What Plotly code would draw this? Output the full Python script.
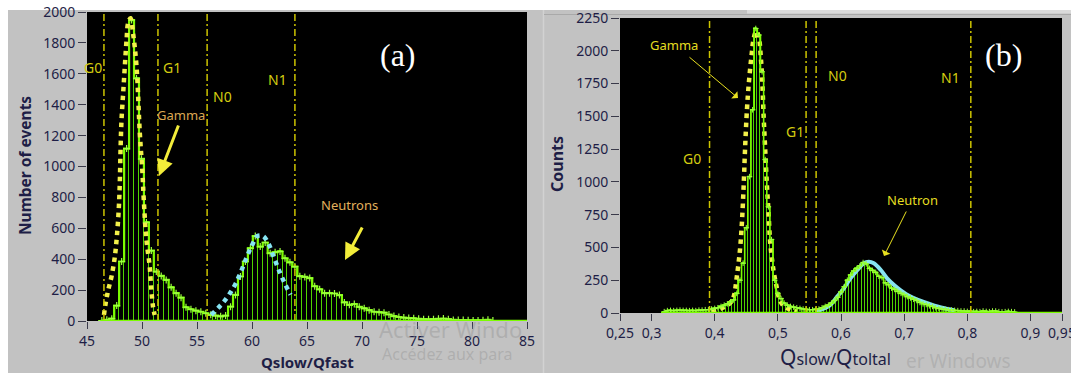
import plotly.graph_objects as go

W, H = 1071, 373

# ---------------- Panel (a) data ----------------
a_x = [46.35, 46.80, 47.25, 47.70, 48.15, 48.60, 49.05, 49.50, 49.95, 50.40,
       50.85, 51.30, 51.75, 52.20, 52.65, 53.10, 53.55, 54.00, 54.45, 54.90,
       55.35, 55.80, 56.25, 56.70, 57.15, 57.60, 58.05, 58.50, 58.95, 59.40,
       59.85, 60.30, 60.75, 61.20, 61.65, 62.10, 62.55, 63.00, 63.45, 63.90,
       64.35, 64.80, 65.25, 65.70, 66.15, 66.60, 67.05, 67.50, 67.95, 68.40,
       68.85, 69.30, 69.75, 70.20, 70.65, 71.10, 71.55, 72.00, 72.45, 72.90,
       73.35, 73.80, 74.25, 74.70, 75.15, 75.60, 76.05, 76.50, 76.95, 77.40,
       77.85, 78.30, 78.75, 79.20, 79.65, 80.10, 80.55, 81.00, 81.45, 81.90]
a_counts = [3, 8, 15, 100, 385, 1116, 1948, 1570, 1050, 638,
            456, 320, 292, 266, 218, 180, 151, 89, 76, 67,
            60, 50, 40, 35, 30, 35, 93, 169, 288, 385,
            471, 550, 482, 508, 439, 445, 450, 406, 380, 352,
            290, 285, 278, 225, 205, 180, 180, 178, 168, 120,
            105, 110, 92, 82, 70, 60, 57, 54, 42, 32,
            26, 22, 19, 17, 14, 12, 11, 12, 14, 16,
            12, 7, 6, 6, 5, 4, 4, 5, 8, 3]
a_gamma_x = [46.54, 46.72, 46.93, 47.23, 47.53, 47.74, 47.90, 47.99, 48.05, 48.14,
             48.29, 48.44, 48.60, 48.74, 48.95, 49.19, 49.50, 49.80, 50.04, 50.16,
             50.40, 50.70, 50.85, 51.00, 51.15]
a_gamma_y = [39, 125, 200, 288, 416, 569, 742, 915, 1109, 1304,
             1477, 1650, 1823, 1930, 1960, 1860, 1650, 1217, 960, 785,
             526, 352, 201, 93, 39]
a_neut_x = [56.3, 57.0, 57.5, 58.0, 58.5, 59.0, 59.5, 60.0, 60.5, 61.0,
            61.5, 62.0, 62.5, 63.0, 63.5]
a_neut_y = [40, 90, 130, 180, 240, 320, 410, 490, 550, 550,
            500, 410, 320, 240, 170]
a_cuts = [46.54, 51.45, 55.92, 63.9]
a_cut_names = ["G0", "G1", "N0", "N1"]
a_xticks = [45, 50, 55, 60, 65, 70, 75, 80, 85]

# ---------------- Panel (b) data ----------------
b_x = [0.320, 0.325, 0.330, 0.335, 0.340, 0.345, 0.350, 0.355, 0.360, 0.365,
       0.370, 0.375, 0.380, 0.385, 0.390, 0.395, 0.400, 0.405, 0.410, 0.415,
       0.420, 0.425, 0.430, 0.435, 0.440, 0.445, 0.450, 0.455, 0.460, 0.465,
       0.470, 0.475, 0.480, 0.485, 0.490, 0.495, 0.500, 0.505, 0.510, 0.515,
       0.520, 0.525, 0.530, 0.535, 0.540, 0.545, 0.550, 0.555, 0.560, 0.565,
       0.570, 0.575, 0.580, 0.585, 0.590, 0.595, 0.600, 0.605, 0.610, 0.615,
       0.620, 0.625, 0.630, 0.635, 0.640, 0.645, 0.650, 0.655, 0.660, 0.665,
       0.670, 0.675, 0.680, 0.685, 0.690, 0.695, 0.700, 0.705, 0.710, 0.715,
       0.720, 0.725, 0.730, 0.735, 0.740, 0.745, 0.750, 0.755, 0.760, 0.765,
       0.770, 0.775, 0.780, 0.785, 0.790, 0.795, 0.800, 0.805, 0.810, 0.815,
       0.820, 0.825, 0.830, 0.835, 0.840, 0.845, 0.850, 0.855, 0.860, 0.865,
       0.870, 0.875]
b_counts = [10, 18, 20, 18, 20, 22, 20, 20, 18, 20,
            18, 22, 22, 25, 25, 30, 35, 40, 50, 60,
            70, 85, 100, 150, 250, 380, 650, 1040, 1550, 2170,
            2120, 1840, 1170, 810, 560, 250, 150, 110, 75, 60,
            50, 45, 40, 35, 30, 28, 25, 25, 28, 30,
            40, 50, 60, 75, 95, 120, 160, 200, 250, 290,
            320, 340, 360, 385, 375, 340, 325, 310, 280, 270,
            230, 215, 190, 180, 165, 150, 140, 125, 115, 105,
            95, 80, 70, 65, 55, 50, 40, 35, 30, 28,
            25, 22, 20, 18, 15, 15, 12, 15, 10, 12,
            10, 15, 12, 10, 15, 15, 10, 8, 10, 12,
            10, 8]
b_gamma_x = [0.395, 0.405, 0.415, 0.425, 0.430, 0.435, 0.440, 0.443, 0.446, 0.448,
             0.451, 0.454, 0.458, 0.462, 0.466, 0.470, 0.473, 0.475, 0.4775, 0.480,
             0.4825, 0.485, 0.488, 0.493, 0.498, 0.503, 0.510, 0.520, 0.530]
b_gamma_y = [15, 25, 45, 80, 125, 277, 481, 684, 989, 1243,
             1548, 1751, 1950, 2100, 2150, 2100, 1950, 1802, 1497, 1243,
             989, 786, 531, 328, 201, 99, 50, 25, 10]
b_neut_x = [0.560, 0.5675, 0.583, 0.594, 0.6045, 0.615, 0.626, 0.636, 0.644, 0.652,
            0.663, 0.673, 0.684, 0.694, 0.710, 0.723, 0.740, 0.760, 0.780]
b_neut_y = [12, 23, 61, 125, 188, 264, 328, 379, 391, 379,
            328, 264, 213, 175, 125, 99, 70, 40, 20]
b_cuts = [0.3918, 0.5447, 0.5606, 0.8056]
b_cut_names = ["G0", "G1", "N0", "N1"]
b_xticks = [0.25, 0.3, 0.4, 0.5, 0.6, 0.7, 0.8, 0.9, 0.95]
b_xticktext = ["0,25", "0,3", "0,4", "0,5", "0,6", "0,7", "0,8", "0,9", "0,95"]

# ---------------- styling ----------------
GRAY = "#C2C2C2"
NAVY = "#1E1E46"
GREEN_BAR = "#4FD400"
GREEN_TOP = "#7CFC00"
YEL_FIT = "#F2F04A"
CYAN_FIT = "#86E4F2"
CUT_COL = "#CCC400"
LBL_COL = "#D4CC10"


def px(x):
    return x / W


def py(y):
    return 1 - y / H


fig = go.Figure()

# Panel (a)
fig.add_trace(go.Bar(x=a_x, y=a_counts, width=0.45, xaxis="x", yaxis="y",
                     marker=dict(color="rgba(0,0,0,0)", line=dict(color=GREEN_BAR, width=1))))
fig.add_trace(go.Scatter(x=a_x, y=a_counts, xaxis="x", yaxis="y", mode="lines+markers",
                         line=dict(color=GREEN_TOP, width=2.2, shape="hvh"),
                         marker=dict(symbol="cross-thin", size=5, line=dict(color="#9CFF40", width=1.2))))
fig.add_trace(go.Scatter(x=a_gamma_x, y=a_gamma_y, xaxis="x", yaxis="y", mode="lines",
                         line=dict(color=YEL_FIT, width=4.5, dash="dot", shape="spline")))
fig.add_trace(go.Scatter(x=a_neut_x, y=a_neut_y, xaxis="x", yaxis="y", mode="lines",
                         line=dict(color=CYAN_FIT, width=4.5, dash="dot", shape="spline")))

# Panel (b)
fig.add_trace(go.Bar(x=b_x, y=b_counts, width=0.005, xaxis="x2", yaxis="y2",
                     marker=dict(color="rgba(0,0,0,0)", line=dict(color=GREEN_BAR, width=1))))
fig.add_trace(go.Scatter(x=b_gamma_x, y=b_gamma_y, xaxis="x2", yaxis="y2", mode="lines",
                         line=dict(color=YEL_FIT, width=4.5, dash="dot", shape="spline")))
fig.add_trace(go.Scatter(x=b_neut_x, y=b_neut_y, xaxis="x2", yaxis="y2", mode="lines",
                         line=dict(color=CYAN_FIT, width=4, shape="spline")))
fig.add_trace(go.Scatter(x=b_x, y=b_counts, xaxis="x2", yaxis="y2", mode="lines+markers",
                         line=dict(color=GREEN_TOP, width=1.6, shape="hvh"),
                         marker=dict(symbol="cross-thin", size=4, line=dict(color="#9CFF40", width=1))))

shapes = []
# white border strips (paper is gray)
shapes.append(dict(type="rect", xref="paper", yref="paper", x0=0, x1=1, y0=py(10), y1=1,
                   fillcolor="white", line=dict(width=0), layer="below"))
shapes.append(dict(type="rect", xref="paper", yref="paper", x0=0, x1=px(8), y0=0, y1=1,
                   fillcolor="white", line=dict(width=0), layer="below"))
shapes.append(dict(type="line", xref="paper", yref="paper", x0=px(543.5), x1=px(543.5), y0=0, y1=py(10),
                   line=dict(color="#D2D2D2", width=1.5), layer="below"))
shapes.append(dict(type="line", xref="paper", yref="paper", x0=px(544), x1=1, y0=py(14.5), y1=py(14.5),
                   line=dict(color="#A9A9A9", width=1), layer="below"))
shapes.append(dict(type="rect", xref="paper", yref="paper", x0=px(747), x1=1, y0=py(13.5), y1=py(10),
                   fillcolor="#DADADA", line=dict(width=0), layer="below"))

DASH = "7px,3px,2px,3px"
for c in a_cuts:
    shapes.append(dict(type="line", xref="x", yref="y domain", x0=c, x1=c, y0=0, y1=1,
                       line=dict(color=CUT_COL, width=1.5, dash=DASH)))
for c in b_cuts:
    shapes.append(dict(type="line", xref="x2", yref="y2 domain", x0=c, x1=c, y0=0, y1=1,
                       line=dict(color=CUT_COL, width=1.5, dash=DASH)))
# green base lines
shapes.append(dict(type="line", xref="x", yref="y", x0=46.2, x1=85, y0=0, y1=0,
                   line=dict(color=GREEN_TOP, width=2.5)))
shapes.append(dict(type="line", xref="x2", yref="y2", x0=0.315, x1=0.95, y0=0, y1=0,
                   line=dict(color=GREEN_TOP, width=2.5)))

ann = []


def label(text, x, y, color, size=15, family="Noto Sans", **kw):
    d = dict(text=text, xref="paper", yref="paper", x=px(x), y=py(y), showarrow=False,
             font=dict(color=color, size=size, family=family), xanchor="center", yanchor="middle",
             borderpad=0)
    d.update(kw)
    ann.append(d)


# cut labels
for name, (lx, ly) in zip(a_cut_names, [(93, 67), (172, 67), (222, 97), (277, 79)]):
    label(name, lx, ly, LBL_COL, size=14)
for name, (lx, ly) in zip(b_cut_names, [(692, 158), (795, 131), (837, 75), (950, 77)]):
    label(name, lx, ly, LBL_COL, size=14)

# panel letters
label("(a)", 398, 55, "white", size=32, family="Liberation Serif")
label("(b)", 1003, 55, "white", size=32, family="Liberation Serif")

# Panel (a) annotations
label("Gamma", 181, 115, "#DCA853", size=13)
ann.append(dict(xref="paper", yref="paper", x=px(159), y=py(176), ax=20, ay=-52, text="",
                showarrow=True, arrowhead=2, arrowsize=1.1, arrowwidth=3, arrowcolor="#F2EC3A"))
label("Neutrons", 349, 205, "#E2B05C", size=13)
ann.append(dict(xref="paper", yref="paper", x=px(345), y=py(260), ax=18, ay=-34, text="",
                showarrow=True, arrowhead=2, arrowsize=1.1, arrowwidth=3, arrowcolor="#F2EC3A"))

# Panel (b) annotations
label("Gamma", 674, 45, "#E4DE20", size=13)
ann.append(dict(xref="paper", yref="paper", x=px(738), y=py(98), ax=-50, ay=-42, text="",
                showarrow=True, arrowhead=1, arrowsize=1.6, arrowwidth=1, arrowcolor="#E8E020"))
label("Neutron", 912, 200, "#E4DE20", size=13)
ann.append(dict(xref="paper", yref="paper", x=px(884), y=py(256), ax=23, ay=-46, text="",
                showarrow=True, arrowhead=1, arrowsize=1.6, arrowwidth=1, arrowcolor="#E8E020"))

# axis titles
label("<b>Number of events</b>", 25, 166, NAVY, size=15.5, textangle=-90)
label("<b>Qslow/Qfast</b>", 307, 362, NAVY, size=15)
label("<b>Counts</b>", 557, 164, NAVY, size=16, textangle=-90)
label("<span style='font-size:21px'>Q</span>slow/<span style='font-size:21px'>Q</span>toltal",
      835, 357, NAVY, size=16)

# faint system watermark
label("Activer Windo", 378, 329, "rgba(150,150,150,0.45)", size=22, xanchor="left")
label("Accédez aux para", 381, 354, "rgba(150,150,150,0.45)", size=16, xanchor="left")
label("er Windows", 905, 361, "rgba(150,150,150,0.4)", size=19, xanchor="left")

tickfont = dict(family="Noto Sans", size=14, color=NAVY)
common = dict(showgrid=False, zeroline=False, showline=False, ticks="outside",
              tickcolor="#3A3A4A", tickwidth=1, tickfont=tickfont, fixedrange=True,
              automargin=False, ticklabeloverflow="allow")

fig.update_layout(
    width=W, height=H, margin=dict(l=0, r=0, t=0, b=0, autoexpand=False),
    paper_bgcolor=GRAY, plot_bgcolor="black", showlegend=False, bargap=0,
    barmode="overlay",
    xaxis=dict(domain=[px(87), px(527)], range=[45, 85], tickvals=a_xticks,
               anchor="y", ticklen=7, **common),
    yaxis=dict(domain=[py(321), py(12)], range=[0, 2000], dtick=200,
               anchor="x", ticklen=8, **common),
    xaxis2=dict(domain=[px(620), px(1062)], range=[0.25, 0.95], tickvals=b_xticks,
                ticktext=b_xticktext, anchor="y2", ticklen=7, **common),
    yaxis2=dict(domain=[py(313), py(18)], range=[0, 2250], dtick=250,
                anchor="x2", ticklen=8, **common),
    shapes=shapes, annotations=ann,
)

fig.write_html("out.html")
